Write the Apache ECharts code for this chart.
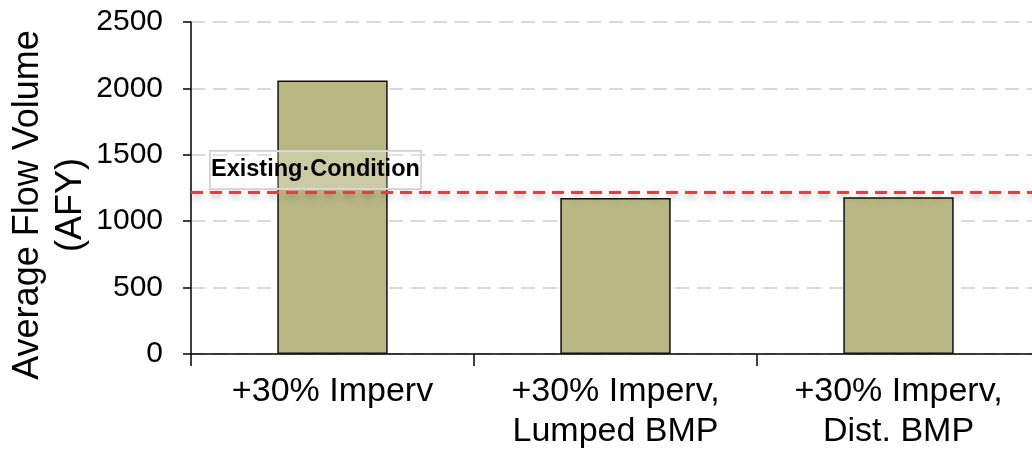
<!DOCTYPE html>
<html>
<head>
<meta charset="utf-8">
<script src="https://cdn.jsdelivr.net/npm/echarts@6/dist/echarts.min.js"></script>
<style>html,body{margin:0;padding:0;background:#fff}#c{width:1032px;height:453px}</style>
</head>
<body>
<div id="c"></div>
<script>
var categories = ['+30% Imperv', '+30% Imperv,\nLumped BMP', '+30% Imperv,\nDist. BMP'];
var flowValues = [2060, 1175, 1180];
var existingCondition = 1220;
var existingLabel = 'Existing\u00b7Condition';
var yTicks = {min: 0, max: 2500, interval: 500};
var yAxisTitle = 'Average Flow Volume\n(AFY)';

var chart = echarts.init(document.getElementById('c'), null, {renderer: 'canvas'});
chart.setOption({
  animation: false,
  backgroundColor: '#ffffff',
  grid: {left: 191, right: -8, top: 22, bottom: 99, containLabel: false, outerBoundsMode: 'none'},
  xAxis: {
    type: 'category',
    data: categories,
    axisLine: {show: true, lineStyle: {color: '#000', width: 1.5}},
    axisTick: {show: true, length: 12, lineStyle: {color: '#000', width: 1.5}},
    axisLabel: {
      color: '#000', fontSize: 34, lineHeight: 40, margin: 18,
      fontFamily: 'Liberation Sans, Arial, sans-serif', interval: 0, hideOverlap: false
    },
    splitLine: {show: false}
  },
  yAxis: {
    type: 'value',
    min: yTicks.min, max: yTicks.max, interval: yTicks.interval,
    name: yAxisTitle,
    nameLocation: 'middle',
    nameGap: 98,
    nameRotate: 90,
    nameMoveOverlap: false,
    nameTextStyle: {
      color: '#000', fontSize: 36, lineHeight: 43,
      fontFamily: 'Liberation Sans, Arial, sans-serif',
      padding: [0, 34, 0, 0]
    },
    axisLine: {show: true, lineStyle: {color: '#000', width: 1.5}},
    axisTick: {show: true, length: 8, lineStyle: {color: '#000', width: 1.5}},
    axisLabel: {
      color: '#000', fontSize: 30, margin: 28, fontFamily: 'Liberation Sans, Arial, sans-serif',
      formatter: function (v) { return String(v); }
    },
    splitLine: {show: true, lineStyle: {color: '#d9d9d9', width: 2, type: [14, 8]}}
  },
  series: [{
    type: 'bar',
    data: flowValues,
    barWidth: '39%',
    itemStyle: {color: '#b9b884', borderColor: '#111', borderWidth: 1.5},
    markLine: {
      silent: true,
      symbol: ['none', 'none'],
      data: [{yAxis: existingCondition}],
      lineStyle: {
        color: '#d64541', width: 3, type: [12, 7],
        shadowColor: 'rgba(0,0,0,0.3)', shadowBlur: 6, shadowOffsetY: 3
      },
      label: {
        show: true,
        position: 'insideStartTop',
        distance: [19, 3],
        formatter: existingLabel,
        color: '#000',
        fontSize: 23.5,
        fontWeight: 'bold',
        fontFamily: 'Liberation Sans, Arial, sans-serif',
        lineHeight: 26,
        backgroundColor: 'rgba(255,255,255,0.25)',
        borderColor: '#d0d0d0',
        borderWidth: 1,
        padding: [6, 1, 6, 1]
      }
    }
  }]
});
</script>
</body>
</html>
